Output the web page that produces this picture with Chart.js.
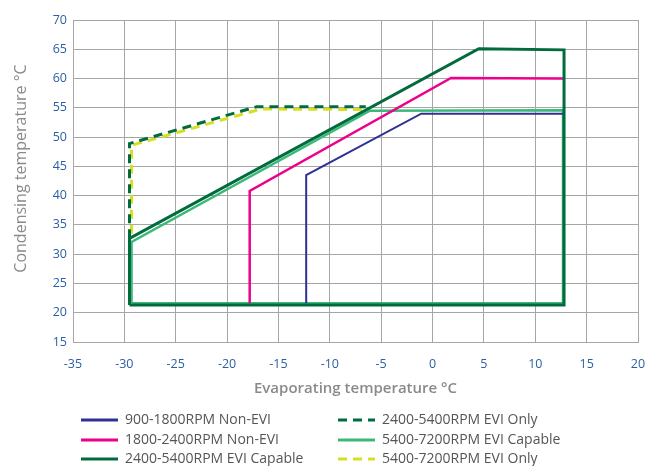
<!DOCTYPE html>
<html>
<head>
<meta charset="utf-8">
<script src="https://cdn.jsdelivr.net/npm/chart.js@4/dist/chart.umd.min.js"></script>
<style>
  html, body { margin: 0; padding: 0; background: #fff; }
  #wrap { width: 658px; height: 466px; }
</style>
</head>
<body>
<div id="wrap"><canvas id="chart"></canvas></div>
<script>
// series names (legend order: column 1 then column 2)
const names = [
  '900-1800RPM Non-EVI',
  '1800-2400RPM Non-EVI',
  '2400-5400RPM EVI Capable',
  '2400-5400RPM EVI Only',
  '5400-7200RPM EVI Capable',
  '5400-7200RPM EVI Only'
];

// envelope outlines: evaporating (x) / condensing (y) in °C
const nonEvi900X  = [-12.3, -12.3, -1.1, 12.7];
const nonEvi900Y  = [21.6, 43.5, 54.0, 54.0];

const nonEvi1800X = [-17.8, -17.8, 1.8, 12.7];
const nonEvi1800Y = [21.6, 40.8, 60.1, 60.0];

const evi2400X = [-29.5, -29.5, 4.5, 12.8, 12.8, -29.5];
const evi2400Y = [21.3, 32.7, 65.1, 64.9, 21.3, 21.3];

const eviOnly2400X = [-29.5, -29.5, -17.1, -6.5];
const eviOnly2400Y = [32.7, 48.9, 55.2, 55.2];

const evi5400X = [-29.3, -29.3, -6.1, 12.7, 12.7, -29.3];
const evi5400Y = [21.6, 32.1, 54.5, 54.6, 21.6, 21.6];

const eviOnly5400X = [-29.3, -29.3, -16.7, -6.1];
const eviOnly5400Y = [33.5, 48.6, 54.8, 54.7];

// axis ticks
const xTicks = [-35, -30, -25, -20, -15, -10, -5, 0, 5, 10, 15, 20];
const yTicks = [15, 20, 25, 30, 35, 40, 45, 50, 55, 60, 65, 70];

const colors = ['#2e3192', '#ec008c', '#006b3c', '#006b3c', '#3cb878', '#d7df23'];
const widths = [2, 2.5, 3, 3, 2.5, 3];
const dashes = [[], [], [], [9, 6], [], [9, 6]];
const order  = [1, 2, 0, 4, 3, 5];

function pts(xs, ys) {
  return xs.map((x, i) => ({ x: x, y: ys[i] }));
}

const seriesData = [
  pts(nonEvi900X, nonEvi900Y),
  pts(nonEvi1800X, nonEvi1800Y),
  pts(evi2400X, evi2400Y),
  pts(eviOnly2400X, eviOnly2400Y),
  pts(evi5400X, evi5400Y),
  pts(eviOnly5400X, eviOnly5400Y)
];

const datasets = [];
for (var i = 0; i < names.length; i++) {
  datasets.push({
    label: names[i],
    data: seriesData[i],
    showLine: true,
    borderColor: colors[i],
    backgroundColor: colors[i],
    borderWidth: widths[i],
    borderDash: dashes[i],
    pointRadius: 0,
    tension: 0,
    fill: false,
    order: order[i],
    borderJoinStyle: 'miter'
  });
}

// legend drawn in the bottom padding, two columns of three
const legendPlugin = {
  id: 'twoColLegend',
  afterDraw(chart) {
    const ctx = chart.ctx;
    const colX = [81, 338];
    const rowY = [420, 440, 459];
    ctx.save();
    ctx.font = '14px "Open Sans"';
    ctx.textBaseline = 'middle';
    ctx.fillStyle = '#555';
    for (var i = 0; i < names.length; i++) {
      const cx = colX[Math.floor(i / 3)];
      const cy = rowY[i % 3];
      ctx.beginPath();
      ctx.strokeStyle = colors[i];
      ctx.lineWidth = 3;
      ctx.setLineDash(dashes[i].length ? [9, 6] : []);
      ctx.moveTo(cx, cy);
      ctx.lineTo(cx + 37, cy);
      ctx.stroke();
      ctx.setLineDash([]);
      ctx.fillText(names[i], cx + 44, cy);
    }
    ctx.restore();
  }
};

const gridColor = '#a6a6a6';
const tickColor = '#2b5ea3';
const titleColor = '#8a8a8a';

new Chart(document.getElementById('chart'), {
  type: 'scatter',
  data: { datasets: datasets },
  plugins: [legendPlugin],
  options: {
    responsive: true,
    maintainAspectRatio: false,
    animation: false,
    layout: { padding: { top: 20, right: 20, bottom: 64, left: 0 } },
    plugins: { legend: { display: false }, tooltip: { enabled: false } },
    scales: {
      x: {
        type: 'linear',
        min: -35, max: 20,
        afterBuildTicks: (s) => { s.ticks = xTicks.map(v => ({ value: v })); },
        afterFit: (s) => {
          s.height = 60;
          // labels fit inside the layout padding, so no extra side padding
          s.paddingLeft = 0;
          s.paddingRight = 0;
        },
        grid: { color: gridColor, drawTicks: false, lineWidth: 1 },
        border: { color: gridColor },
        ticks: { color: tickColor, padding: 15, font: { family: 'Open Sans', size: 12.5 } },
        title: {
          display: true,
          text: 'Evaporating temperature °C',
          color: titleColor,
          font: { family: 'Open Sans', size: 15, weight: '600' },
          padding: { top: 0, bottom: 4 }
        }
      },
      y: {
        type: 'linear',
        min: 15, max: 70,
        afterBuildTicks: (s) => { s.ticks = yTicks.map(v => ({ value: v })); },
        afterFit: (s) => { s.width = 73; },
        grid: { color: gridColor, drawTicks: false, lineWidth: 1 },
        border: { color: gridColor },
        ticks: { color: tickColor, padding: 6, font: { family: 'Open Sans', size: 12.5 } },
        title: {
          display: true,
          // leading spaces nudge the rotated title upward like the original
          text: '      Condensing temperature °C',
          color: titleColor,
          font: { family: 'Open Sans', size: 16, weight: 'normal' },
          padding: { top: 12, bottom: 0 }
        }
      }
    }
  }
});
</script>
</body>
</html>
